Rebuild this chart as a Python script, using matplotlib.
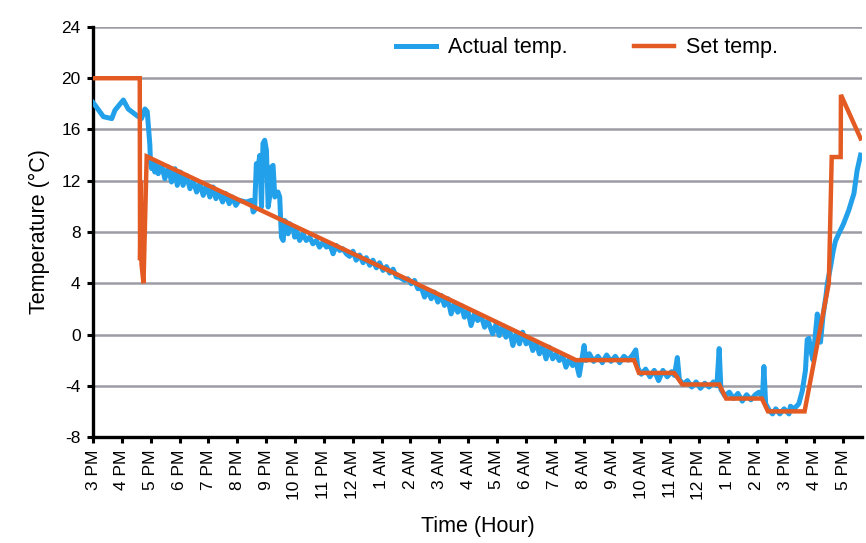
import matplotlib
matplotlib.use("Agg")
import matplotlib.pyplot as plt

plt.rcParams['font.family'] = ['Liberation Sans', 'DejaVu Sans']
plt.rcParams['axes.unicode_minus'] = False

# hours after 3 PM
tick_labels = ['3 PM', '4 PM', '5 PM', '6 PM', '7 PM', '8 PM', '9 PM', '10 PM', '11 PM',
               '12 AM', '1 AM', '2 AM', '3 AM', '4 AM', '5 AM', '6 AM', '7 AM', '8 AM',
               '9 AM', '10 AM', '11 AM', '12 PM', '1 PM', '2 PM', '3 PM', '4 PM', '5 PM']

set_hours = [0, 1.62, 1.63, 1.66, 1.68, 1.75, 1.86, 10.62, 16.74, 18.75, 18.92,
             20.14, 20.42, 21.70, 21.94, 23.18, 23.39, 24.66, 25.50, 25.60, 25.91,
             25.92, 26.60]
set_temp = [20, 20, 5.8, 12, 5.5, 4.0, 13.9, 4.6, -2.0, -2.0, -3.0,
            -3.0, -3.9, -3.9, -5.0, -5.0, -6.0, -6.0, 4.0, 13.85, 13.85,
            18.7, 15.3]

actual_hours = [
    0.00, 0.07, 0.36, 0.65, 0.76, 1.05, 1.22, 1.51, 1.68, 1.80, 1.88, 1.97, 1.99, 2.03,
    2.09, 2.14, 2.20, 2.26, 2.38, 2.49, 2.61, 2.72, 2.84, 2.92, 3.03, 3.12, 3.24, 3.36,
    3.47, 3.59, 3.70, 3.82, 3.93, 4.05, 4.16, 4.26, 4.37, 4.49, 4.60, 4.72, 4.83, 4.95,
    5.06, 5.32, 5.49, 5.55, 5.60, 5.66, 5.72, 5.78, 5.84, 5.89, 5.95, 6.01, 6.07, 6.12,
    6.18, 6.24, 6.30, 6.36, 6.41, 6.47, 6.53, 6.59, 6.64, 6.70, 6.76, 6.82, 6.93, 6.99,
    7.05, 7.16, 7.28, 7.39, 7.51, 7.62, 7.74, 7.85, 7.97, 8.09, 8.20, 8.32, 8.43, 8.55,
    8.66, 8.78, 8.89, 9.01, 9.12, 9.24, 9.36, 9.47, 9.59, 9.70, 9.82, 9.93, 10.05, 10.17,
    10.28, 10.40, 10.51, 10.62, 10.80, 10.91, 11.03, 11.14, 11.26, 11.37, 11.49, 11.60,
    11.72, 11.83, 11.95, 12.07, 12.18, 12.30, 12.41, 12.53, 12.64, 12.76, 12.87, 12.99,
    13.10, 13.22, 13.33, 13.45, 13.57, 13.68, 13.85, 13.97, 14.08, 14.20, 14.31, 14.43,
    14.55, 14.66, 14.78, 14.89, 15.01, 15.12, 15.24, 15.35, 15.47, 15.58, 15.70, 15.81,
    15.93, 16.05, 16.16, 16.28, 16.39, 16.51, 16.62, 16.74, 16.85, 16.97, 17.02, 17.08,
    17.20, 17.35, 17.50, 17.65, 17.80, 17.95, 18.10, 18.25, 18.40, 18.55, 18.70, 18.81,
    18.88, 19.00, 19.15, 19.30, 19.45, 19.60, 19.75, 19.90, 20.05, 20.15, 20.25, 20.32,
    20.45, 20.60, 20.75, 20.90, 21.05, 21.20, 21.35, 21.50, 21.62, 21.70, 21.76, 21.90,
    22.05, 22.20, 22.35, 22.50, 22.65, 22.80, 22.95, 23.08, 23.20, 23.25, 23.31, 23.43,
    23.55, 23.66, 23.80, 23.95, 24.12, 24.17, 24.30, 24.46, 24.58, 24.69, 24.75, 24.81,
    24.87, 24.95, 25.00, 25.10, 25.16, 25.21, 25.30, 25.40, 25.45, 25.56, 25.65, 25.73,
    25.85, 25.96, 26.02, 26.19, 26.37, 26.48, 26.60]
actual_temp = [
    18.1, 17.9, 17.0, 16.85, 17.5, 18.3, 17.6, 17.1, 16.85, 17.6, 17.4, 14.8, 13.5, 12.95,
    13.46, 12.68, 13.20, 12.55, 13.20, 12.16, 13.07, 11.90, 12.94, 11.64, 12.68, 11.64, 12.42, 11.38,
    12.03, 11.12, 11.77, 10.86, 11.64, 10.73, 11.51, 10.60, 11.12, 10.34, 11.0, 10.21, 10.73, 10.08,
    10.47, 10.34, 10.47, 9.56, 9.69, 13.33, 13.07, 13.98, 9.95, 14.90, 15.16, 14.38, 9.95, 10.73,
    13.07, 13.20, 10.73, 11.0, 11.12, 10.73, 7.60, 7.34, 8.90, 8.77, 7.86, 8.64, 8.38, 7.60,
    8.12, 7.34, 7.86, 7.34, 7.60, 7.08, 7.34, 6.82, 7.21, 6.82, 7.08, 6.30, 6.95, 6.56,
    6.69, 6.30, 6.1, 6.5, 5.8, 6.2, 5.6, 6.0, 5.4, 5.8, 5.2, 5.6, 5.0, 5.3,
    4.8, 5.1, 4.5, 4.48, 4.22, 4.35, 3.96, 4.22, 3.57, 3.70, 2.92, 3.44,
    2.79, 3.31, 2.53, 3.05, 2.27, 2.79, 1.61, 2.40, 1.74, 2.27, 1.35, 1.88,
    0.70, 1.61, 1.09, 1.48, 0.57, 1.09, 0.05, 0.83, -0.08, 0.70, -0.21, 0.44,
    -0.86, 0.05, -0.73, 0.18, -0.73, -0.34, -1.25, -0.60, -1.51, -0.86, -1.90, -0.99,
    -1.90, -1.51, -2.03, -1.64, -2.55, -1.90, -2.42, -2.16, -3.20, -1.51, -0.86, -2.03,
    -1.5, -2.1, -1.7, -2.2, -1.6, -2.1, -1.7, -2.2, -1.7, -2.0, -1.6, -1.2,
    -2.6, -3.1, -2.7, -3.3, -2.8, -3.6, -2.8, -3.3, -2.9, -3.2, -1.8, -3.5,
    -3.9, -3.6, -4.1, -3.7, -4.2, -3.8, -4.1, -3.7, -4.0, -1.1, -4.3, -4.8,
    -4.5, -5.0, -4.6, -5.2, -4.7, -5.1, -4.7, -4.5, -4.9, -2.5, -5.4, -5.9,
    -6.2, -5.8, -6.2, -5.8, -6.2, -5.6, -5.8, -5.4, -4.4, -2.8, -0.4, -0.3,
    -1.2, -2.0, -0.8, 1.6, 0.0, -0.6, 1.5, 3.0, 4.0, 5.3, 6.5, 7.3,
    7.9, 8.4, 8.7, 9.7, 11.0, 12.8, 14.0]

blue = '#22a0ea'
orange = '#e35a22'

fig = plt.figure(figsize=(8.66, 5.43), dpi=100)
ax = fig.add_axes([0.1074, 0.1952, 0.888, 0.7551])

ax.plot(actual_hours, actual_temp, color=blue, lw=3.6, label='Actual temp.', zorder=3,
        solid_joinstyle='round')
ax.plot(set_hours, set_temp, color=orange, lw=3.2, label='Set temp.', zorder=4,
        solid_joinstyle='miter')

ax.set_xlim(0, 26.65)
ax.set_ylim(-8, 24)
ax.set_yticks(range(-8, 25, 4))
ax.set_xticks(range(len(tick_labels)))
ax.set_xticklabels(tick_labels, rotation=90, fontsize=12.5)
ax.tick_params(axis='y', labelsize=12.5)
ax.tick_params(direction='out', length=4, width=2.2, color='black', pad=5)

for y in range(-4, 25, 4):
    ax.axhline(y, color='#9c9ca4', lw=1.8, zorder=1)

for side in ['top', 'right']:
    ax.spines[side].set_visible(False)
for side in ['left', 'bottom']:
    ax.spines[side].set_linewidth(2.4)
    ax.spines[side].set_color('black')

ax.set_xlabel('Time (Hour)', fontsize=15.5, labelpad=12)
ax.set_ylabel('Temperature (\u00b0C)', fontsize=15.5, labelpad=8)

ax.legend(loc='center', bbox_to_anchor=(0.642, 0.949), ncol=2, frameon=False,
          fontsize=15.5, handlelength=1.85, handletextpad=0.55, columnspacing=3.1)

fig.savefig('out.png', dpi=100)
